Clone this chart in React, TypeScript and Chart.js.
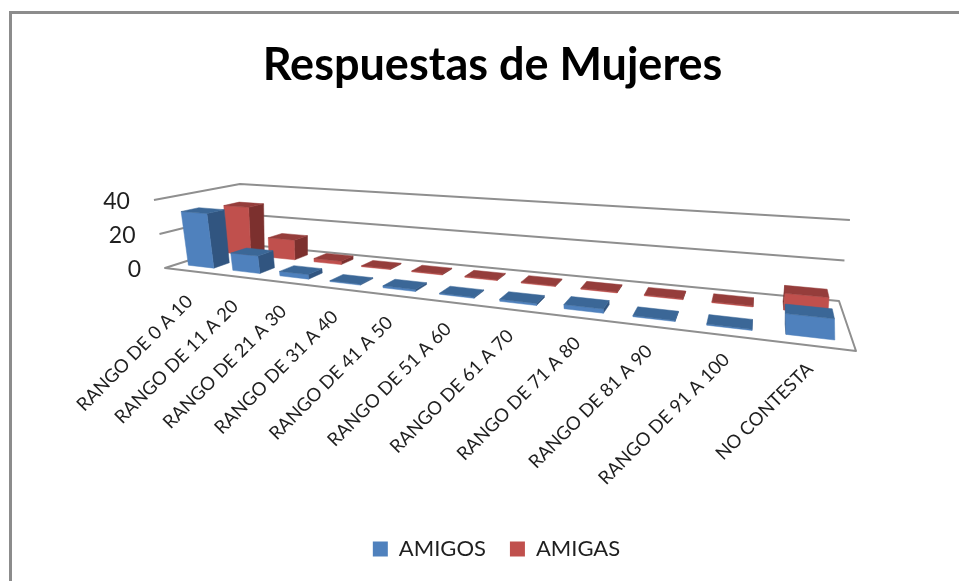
import React, { useEffect, useRef } from "react";
import { Chart, registerables, BarController } from "chart.js";

const categories = [
  "RANGO DE 0 A 10", "RANGO DE 11 A 20", "RANGO DE 21 A 30", "RANGO DE 31 A 40",
  "RANGO DE 41 A 50", "RANGO DE 51 A 60", "RANGO DE 61 A 70", "RANGO DE 71 A 80",
  "RANGO DE 81 A 90", "RANGO DE 91 A 100", "NO CONTESTA",
];
const amigos = [32, 10, 2.5, 0.5, 1, 0.5, 1, 2, 0.5, 0.5, 9];
const amigas = [30, 12, 2, 0.5, 0.5, 0.5, 0.5, 0.5, 0.5, 0.5, 8];
const axisMax = 40;
const axisStep = 20;

const FONT = "Lato, Carlito, sans-serif";
const GRID = "#8f8f8f";
const TEXT = "#1f1f1f";
const SHADES: Record<string, { front: string; top: string; side: string }> = {
  AMIGOS: { front: "#4f81bd", top: "#3b6797", side: "#315580" },
  AMIGAS: { front: "#c0504d", top: "#953d3b", side: "#7c302e" },
};
const ROWS: Record<string, [number, number]> = { AMIGOS: [0.15, 0.35], AMIGAS: [0.65, 0.85] };

// Perspective of the 3D box: floor corners on screen, front-left, front-right, back-right, back-left
const FL = [165, 268], FR = [856, 351], BR = [839, 301], BL = [240, 244];
const dx1 = FR[0] - BR[0], dy1 = FR[1] - BR[1], dx2 = BL[0] - BR[0], dy2 = BL[1] - BR[1];
const dx3 = FL[0] - FR[0] + BR[0] - BL[0], dy3 = FL[1] - FR[1] + BR[1] - BL[1];
const den = dx1 * dy2 - dx2 * dy1;
const hg = (dx3 * dy2 - dx2 * dy3) / den, hh = (dx1 * dy3 - dx3 * dy1) / den;
const ha = FR[0] - FL[0] + hg * FR[0], hb = BL[0] - FL[0] + hh * BL[0];
const hd = FR[1] - FL[1] + hg * FR[1], he = BL[1] - FL[1] + hh * BL[1];

function project(u: number, w: number, h: number): [number, number] {
  const q = hg * u + hh * w + 1;
  const x = (ha * u + hb * w + FL[0]) / q;
  const y = (hd * u + he * w + FL[1]) / q;
  const vx = 63.9 + 0.0477 * x - 0.309 * y;
  const vy = 23.9 - 0.0026 * x - 0.3414 * y;
  return [x + h * vx, y + h * vy];
}
// Slight easing of the category positions along the floor
const warp = (u: number) => u + 0.004 - 0.004 * u + 0.07 * u * (1 - u);

function poly(ctx: CanvasRenderingContext2D, pts: [number, number][], fill: string) {
  ctx.beginPath();
  pts.forEach((p, i) => (i ? ctx.lineTo(p[0], p[1]) : ctx.moveTo(p[0], p[1])));
  ctx.closePath();
  ctx.fillStyle = fill;
  ctx.fill();
  ctx.strokeStyle = fill;
  ctx.lineWidth = 0.5;
  ctx.stroke();
}

class Bar3DController extends BarController {
  static id = "bar3d";
  static defaults = BarController.defaults;
  static overrides = BarController.overrides;
  draw() {
    const meta: any = this.getMeta();
    const ctx = this.chart.ctx;
    const xs = meta.xScale, ys = meta.yScale;
    const span = ys.getPixelForValue(0) - ys.getPixelForValue(axisMax);
    const label = String(this.getDataset().label);
    const shade = SHADES[label];
    const [w0, w1] = ROWS[label];
    meta.data.forEach((el: any) => {
      const u0 = warp((el.x - el.width / 2 - xs.left) / xs.width);
      const u1 = warp((el.x + el.width / 2 - xs.left) / xs.width);
      const h = (el.base - el.y) / span;
      const a = project(u0, w0, 0), b = project(u1, w0, 0), c = project(u1, w1, 0), d = project(u0, w1, 0);
      const at = project(u0, w0, h), bt = project(u1, w0, h), ct = project(u1, w1, h), dt = project(u0, w1, h);
      if (d[0] < a[0]) poly(ctx, [a, d, dt, at], shade.side);
      if (c[0] > b[0]) poly(ctx, [b, c, ct, bt], shade.side);
      poly(ctx, [a, b, bt, at], shade.front);
      poly(ctx, [at, bt, ct, dt], shade.top);
    });
  }
}

const box3D = {
  id: "box3D",
  afterLayout(chart: any) {
    // The legend sits a little right of the title in the reference
    chart.legend.left += 4;
    chart.legend.right += 4;
  },
  beforeDatasetsDraw(chart: any) {
    const { ctx, scales } = chart;
    const ys = scales.y, xs = scales.x;
    const span = ys.getPixelForValue(0) - ys.getPixelForValue(axisMax);
    ctx.save();
    ctx.strokeStyle = GRID;
    ctx.lineWidth = 2;
    ctx.lineJoin = "round";
    const f = [project(0, 0, 0), project(1, 0, 0), project(1, 1, 0), project(0, 1, 0)];
    ctx.beginPath();
    f.forEach((p, i) => (i ? ctx.lineTo(p[0], p[1]) : ctx.moveTo(p[0], p[1])));
    ctx.closePath();
    ctx.stroke();
    ctx.fillStyle = TEXT;
    ctx.font = `23px ${FONT}`;
    ctx.textAlign = "right";
    ctx.textBaseline = "middle";
    ys.ticks.forEach((t: any) => {
      const h = (ys.getPixelForValue(0) - ys.getPixelForValue(t.value)) / span;
      const p = project(0, 0, h);
      if (t.value > 0) {
        const q = project(0, 1, h), r = project(1, 1, h);
        ctx.beginPath();
        ctx.moveTo(p[0], p[1]);
        ctx.lineTo(q[0], q[1]);
        ctx.lineTo(r[0], r[1]);
        ctx.stroke();
      }
      ctx.fillText(String(t.value), p[0] - 24, p[1] + 2);
    });
    ctx.font = `18.5px ${FONT}`;
    categories.forEach((name, i) => {
      const u = (xs.getPixelForValue(i) - xs.left) / xs.width;
      const p = project(warp(u), 0, 0);
      ctx.save();
      ctx.translate(p[0] + 1 - 3 * u, p[1] + 28 - 8 * u);
      ctx.rotate(-Math.PI / 4);
      ctx.fillText(name, 0, 0);
      ctx.restore();
    });
    ctx.restore();
  },
};

export default function App() {
  const ref = useRef<HTMLCanvasElement>(null);
  useEffect(() => {
    Chart.register(...registerables, Bar3DController);
    const chart = new Chart(ref.current!, {
      type: "bar3d" as any,
      data: {
        labels: categories,
        datasets: [
          { label: "AMIGOS", data: amigos, backgroundColor: SHADES.AMIGOS.front, clip: false } as any,
          { label: "AMIGAS", data: amigas, backgroundColor: SHADES.AMIGAS.front, clip: false } as any,
        ],
      },
      options: {
        animation: false,
        responsive: false,
        grouped: false,
        categoryPercentage: 1,
        barPercentage: 0.58,
        layout: { padding: { left: 26, right: 0, top: 38, bottom: 11 } },
        scales: {
          x: { type: "category", display: false },
          y: { type: "linear", display: false, min: 0, max: axisMax, ticks: { stepSize: axisStep } },
        },
        plugins: {
          tooltip: { enabled: false },
          title: {
            display: true,
            text: "Respuestas de Mujeres",
            color: "#000",
            font: { family: FONT, size: 45, weight: "bold" },
            padding: { top: 0, bottom: 20 },
          },
          legend: {
            position: "bottom",
            labels: {
              color: TEXT,
              font: { family: FONT, size: 22 },
              boxWidth: 15,
              boxHeight: 15,
              padding: 24,
            },
          },
        },
      } as any,
      plugins: [box3D],
    });
    return () => chart.destroy();
  }, []);
  return (
    <div style={{ position: "fixed", left: 0, top: 0, width: 959, height: 581, background: "#fff", overflow: "hidden" }}>
      <canvas ref={ref} width={959} height={581} style={{ display: "block" }} />
      <div style={{ position: "absolute", left: 9, top: 11, right: 0, bottom: 0, borderLeft: "3px solid #8c8c8c", borderTop: "3px solid #8c8c8c" }} />
    </div>
  );
}
